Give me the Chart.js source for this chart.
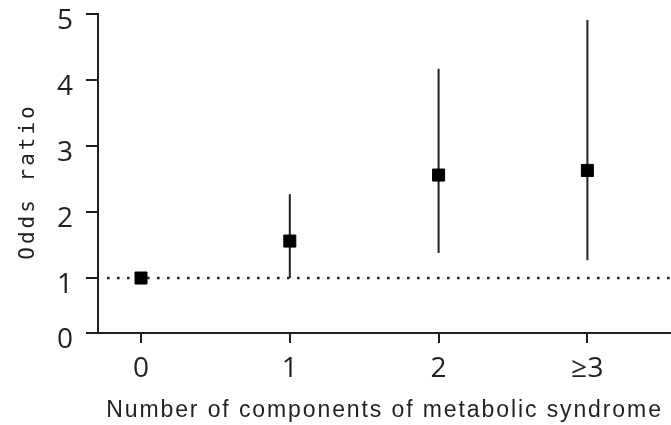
<!DOCTYPE html>
<html>
<head>
<meta charset="utf-8">
<script src="https://cdn.jsdelivr.net/npm/chart.js@4/dist/chart.umd.min.js"></script>
<style>
  html, body { margin: 0; padding: 0; background: #ffffff; }
  #wrap { width: 671px; height: 425px; }
</style>
</head>
<body>
<div id="wrap"><canvas id="c" width="671" height="425"></canvas></div>
<script>
// ---- data ----
const categories = ['0', '1', '2', '\u22653'];
const oddsRatio  = [1.00, 1.56, 2.56, 2.63];
const ciLower    = [1.00, 1.00, 1.38, 1.27];
const ciUpper    = [1.00, 2.27, 4.17, 4.91];
const yTickValues = [0, 1, 2, 3, 4, 5];
const referenceOR = 1;

const INK = '#231f20';
const Y_MIN = 0.167, Y_MAX = 5;
const X_MIN = -0.289, X_MAX = 3.562;

function spaced(spacing, dx, dy) {
  return function (scale) {
    if (!scale._lsPatched) {
      const orig = scale.drawTitle;
      scale.drawTitle = function () {
        const ctx = this.ctx;
        ctx.save();
        ctx.letterSpacing = spacing;
        ctx.translate(dx || 0, dy || 0);
        orig.apply(this, arguments);
        ctx.restore();
      };
      scale._lsPatched = true;
    }
  };
}

const datasets = [];
// dotted reference line at OR = 1
datasets.push({
  type: 'line',
  data: [{ x: -0.228, y: referenceOR }, { x: X_MAX, y: referenceOR }],
  borderColor: INK,
  borderWidth: 2.5,
  borderDash: [2.5, 7.5],
  pointRadius: 0,
  order: 3
});
// confidence interval whiskers
categories.forEach((c, i) => {
  datasets.push({
    type: 'line',
    data: [{ x: i, y: ciLower[i] }, { x: i, y: ciUpper[i] }],
    borderColor: INK,
    borderWidth: 2,
    pointRadius: 0,
    order: 2
  });
});
// point estimates
datasets.push({
  type: 'scatter',
  data: oddsRatio.map((v, i) => ({ x: i, y: v })),
  pointStyle: 'rect',
  pointRadius: 8.5,
  backgroundColor: '#000000',
  borderColor: '#000000',
  borderWidth: 1,
  order: 1
});

new Chart(document.getElementById('c'), {
  type: 'scatter',
  data: { datasets },
  options: {
    responsive: false,
    devicePixelRatio: 1,
    animation: false,
    events: [],
    layout: { autoPadding: false, padding: { top: 14, right: 0, bottom: 0, left: 0 } },
    plugins: { legend: { display: false }, tooltip: { enabled: false } },
    scales: {
      x: {
        type: 'linear',
        min: X_MIN,
        max: X_MAX,
        afterBuildTicks: (s) => { s.ticks = categories.map((c, i) => ({ value: i })); },
        afterFit: (s) => {
          s.height = 92;
          s.paddingLeft = 0; s.paddingRight = 0;
          spaced('1.9px', 0, 0)(s);
        },
        ticks: {
          callback: (v) => categories[v],
          color: INK,
          font: { family: 'Open Sans', size: 28 },
          padding: 9,
          maxRotation: 0,
          autoSkip: false
        },
        grid: {
          display: true,
          drawOnChartArea: false,
          drawTicks: true,
          tickLength: 10,
          color: INK,
          lineWidth: 2
        },
        border: { display: true, color: INK, width: 2 },
        title: {
          display: true,
          text: 'Number of components of metabolic syndrome',
          color: INK,
          font: { family: 'Liberation Sans', size: 23 },
          padding: { top: 0, bottom: 1 }
        }
      },
      y: {
        type: 'linear',
        min: Y_MIN,
        max: Y_MAX,
        afterBuildTicks: (s) => {
          s.ticks = yTickValues.map(v => ({ value: Math.max(v, Y_MIN) }));
        },
        afterFit: (s) => {
          s.width = 98;
          s.paddingTop = 0; s.paddingBottom = 0;
          spaced('3px', 0, 8)(s);
        },
        ticks: {
          callback: (v) => String(Math.round(v)),
          color: INK,
          font: { family: 'Open Sans', size: 28 },
          padding: 13,
          labelOffset: 7
        },
        grid: {
          display: true,
          drawOnChartArea: false,
          drawTicks: true,
          tickLength: 12,
          color: INK,
          lineWidth: 2
        },
        border: { display: true, color: INK, width: 2 },
        title: {
          display: true,
          text: 'Odds ratio',
          color: INK,
          font: { family: 'DejaVu Sans Mono', size: 21 },
          padding: { top: 16, bottom: 0 }
        }
      }
    }
  }
});
</script>
</body>
</html>
